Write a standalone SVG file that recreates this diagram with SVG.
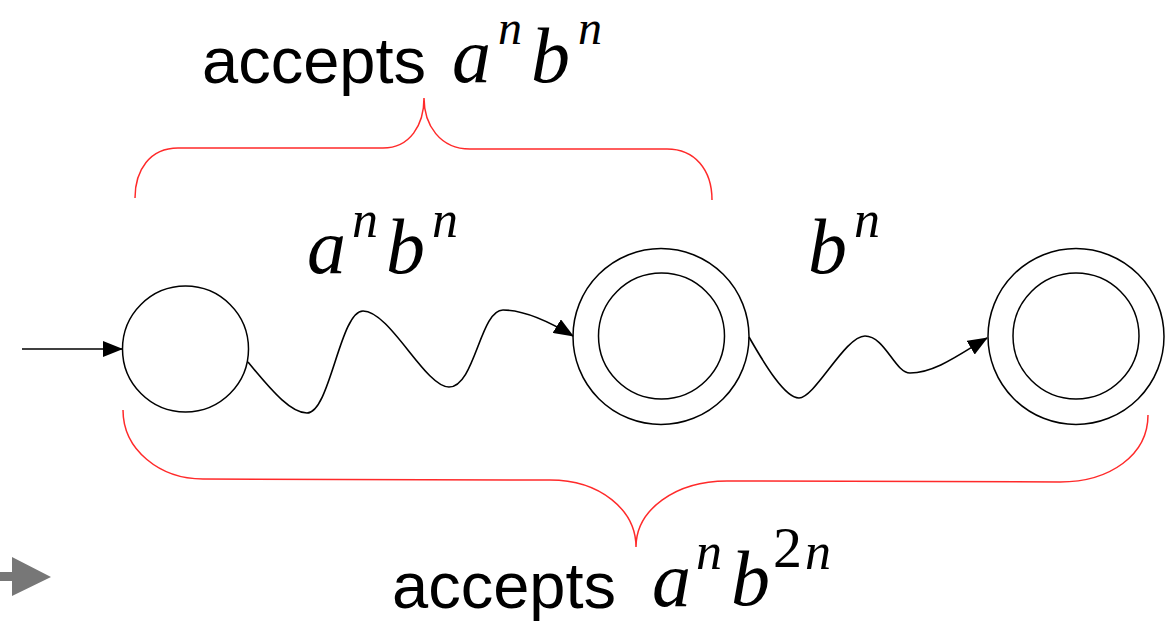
<svg xmlns="http://www.w3.org/2000/svg" width="1173" height="621" viewBox="0 0 1173 621">
<style>
.st{fill:none;stroke:#000;stroke-width:1.5}
.ed{fill:none;stroke:#000;stroke-width:1.6;marker-end:url(#ah)}
.br{fill:none;stroke:#ff2a2a;stroke-width:1.5}
.sans{font-family:"Liberation Sans",Arial,sans-serif;font-size:65px;fill:#000}
.mi{font-family:"Liberation Serif","Times New Roman",serif;font-style:italic;font-size:78px;fill:#000}
.sup{font-family:"Liberation Serif","Times New Roman",serif;font-style:italic;font-size:52px;fill:#000}
.supt{font-family:"Liberation Serif","Times New Roman",serif;font-style:italic;font-size:48px;fill:#000}
.supr{font-family:"Liberation Serif","Times New Roman",serif;font-size:58px;fill:#000}
</style>
<defs>
<marker id="ah" markerUnits="userSpaceOnUse" markerWidth="20" markerHeight="16" refX="19" refY="8" orient="auto" viewBox="0 0 20 16">
<path d="M0,0 L20,8 L0,16 Z" fill="#000"/>
</marker>
</defs>
<rect width="1173" height="621" fill="#fff"/>
<g id="connectors">
<path class="ed" d="M22,349 L122,349"/>
<path class="ed" d="M248,362 C275,395 292,413 307,413 C330,413 340,311 363,311 C390,311 425,387 449,387 C475,387 480,310 503,310 C525,310 550,322 573,336"/>
<path class="ed" d="M749,337 C765,365 785,398 799,398 C815,398 845,336 865,336 C885,336 895,373 910,373 C935,373 960,354 987,338"/>
</g>
<g id="q0">
<circle class="st" cx="185.5" cy="349" r="63"/>
</g>
<g id="q1">
<circle class="st" cx="661" cy="336.5" r="88"/>
<circle class="st" cx="661.5" cy="336" r="63"/>
</g>
<g id="q2">
<circle class="st" cx="1076" cy="336.5" r="88"/>
<circle class="st" cx="1076" cy="336" r="63"/>
</g>
<g id="brace-top">
<path class="br" d="M135,198 C135,170 150,148 178,148 L383,148 C410,148 424,125 424,98 C424,125 440,149 470,149 L667,149 C695,149 712,170 712,200"/>
</g>
<g id="brace-bottom">
<path class="br" d="M123,410 C123,450 160,479 203,479 L550,480 C600,480 636,510 636,547 C636,510 675,481 727,481 L1060,482 C1110,482 1148,455 1148,415"/>
</g>
<g id="gray-arrow">
<path d="M0,572 L12,572 L12,557 L51,577 L12,596 L12,581 L0,581 Z" fill="#777"/>
</g>
<g id="label-top">
<text class="sans" x="202" y="83">accepts</text>
<text class="mi" x="452" y="82">a</text>
<text class="supt" x="498" y="44">n</text>
<text class="mi" x="531" y="82">b</text>
<text class="supt" x="578" y="44">n</text>
</g>
<g id="label-e1">
<text class="mi" x="307" y="273">a</text>
<text class="sup" x="352" y="237">n</text>
<text class="mi" x="386" y="273">b</text>
<text class="sup" x="432" y="237">n</text>
</g>
<g id="label-e2">
<text class="mi" x="808" y="273">b</text>
<text class="sup" x="854" y="237">n</text>
</g>
<g id="label-bottom">
<text class="sans" x="392" y="608">accepts</text>
<text class="mi" x="652" y="606">a</text>
<text class="sup" x="696" y="569">n</text>
<text class="mi" x="731" y="605">b</text>
<text class="supr" x="773" y="567">2</text>
<text class="sup" x="805" y="569">n</text>
</g>
</svg>
